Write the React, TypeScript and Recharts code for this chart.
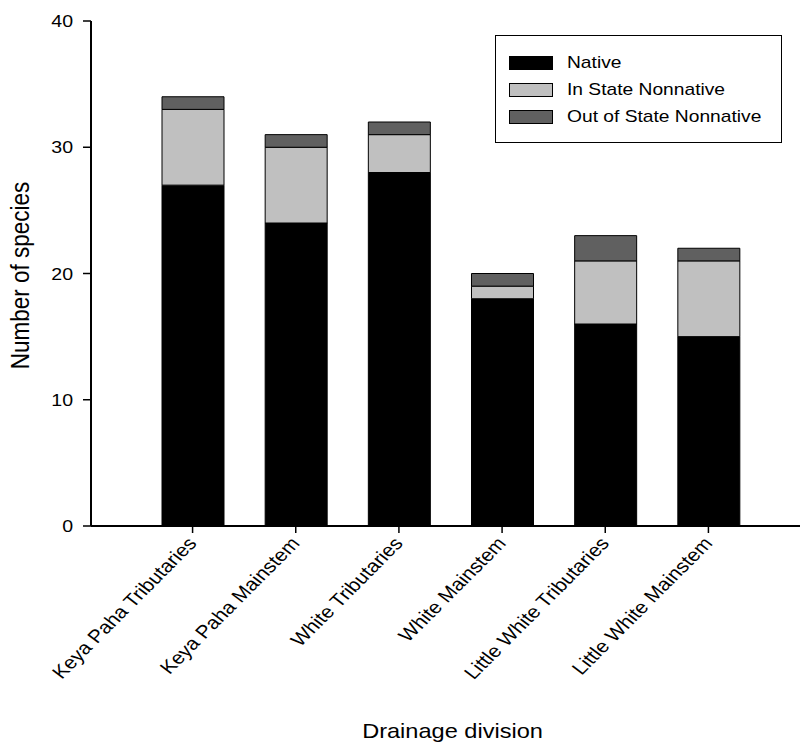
import { BarChart, Bar, XAxis, YAxis } from 'recharts';

const divisions = [
  'Keya Paha Tributaries',
  'Keya Paha Mainstem',
  'White Tributaries',
  'White Mainstem',
  'Little White Tributaries',
  'Little White Mainstem',
];
const native = [27, 24, 28, 18, 16, 15];
const inStateNonnative = [6, 6, 3, 1, 5, 6];
const outOfStateNonnative = [1, 1, 1, 1, 2, 1];
const yTicks = [0, 10, 20, 30, 40];

const series = [
  { key: 'native', name: 'Native', color: '#000000' },
  { key: 'inState', name: 'In State Nonnative', color: '#c0c0c0' },
  { key: 'outState', name: 'Out of State Nonnative', color: '#606060' },
];

const data = divisions.map((name, i) => ({
  name,
  native: native[i],
  inState: inStateNonnative[i],
  outState: outOfStateNonnative[i],
}));

const font = 'Arial, "Liberation Sans", sans-serif';
// the reference text is a bit wider than plain Arial
const stretch = 1.15;

function XTick({ x, y, payload }: any) {
  const tx = x + 5;
  const ty = y + 9;
  return (
    <text
      transform={`translate(${tx},${ty}) scale(${stretch},1) rotate(-49)`}
      textAnchor="end"
      fontSize={18.3}
      fill="#000"
      fontFamily={font}
    >
      {payload.value}
    </text>
  );
}

function YTick({ x, y, payload }: any) {
  return (
    <text
      transform={`translate(${x - 8},${y}) scale(${stretch},1)`}
      textAnchor="end"
      dy="0.36em"
      fontSize={17}
      fill="#000"
      fontFamily={font}
    >
      {payload.value}
    </text>
  );
}

function XLabel({ viewBox }: any) {
  const cx = viewBox ? viewBox.x + viewBox.width / 2 + 7 : 452;
  return (
    <text
      transform={`translate(${cx},738) scale(${stretch},1)`}
      textAnchor="middle"
      fontSize={20.5}
      fill="#000"
      fontFamily={font}
    >
      Drainage division
    </text>
  );
}

function YLabel({ viewBox }: any) {
  const cy = viewBox ? viewBox.y + viewBox.height / 2 : 273;
  return (
    <text
      transform={`translate(20,${cy + 2}) scale(${stretch},1) rotate(-90)`}
      textAnchor="middle"
      dy="0.36em"
      fontSize={22.5}
      fill="#000"
      fontFamily={font}
    >
      Number of species
    </text>
  );
}

function LegendBox() {
  return (
    <div
      style={{
        position: 'absolute',
        left: 495,
        top: 35,
        border: '1px solid #000',
        background: '#fff',
        width: 287,
        height: 108,
        boxSizing: 'border-box',
        padding: '13px 0 0 13px',
        fontFamily: font,
        fontSize: 17,
      }}
    >
      {series.map(s => (
        <div key={s.key} style={{ display: 'flex', alignItems: 'center', height: 27 }}>
          <div
            style={{
              width: 44,
              height: 14,
              background: s.color,
              border: '1px solid #000',
              boxSizing: 'border-box',
              marginRight: 14,
              flexShrink: 0,
            }}
          />
          <span
            style={{
              display: 'inline-block',
              whiteSpace: 'nowrap',
              transform: `scaleX(${stretch - 0.02})`,
              transformOrigin: 'left center',
            }}
          >
            {s.name}
          </span>
        </div>
      ))}
    </div>
  );
}

export default function App() {
  return (
    <div style={{ position: 'relative', width: 802, height: 745, background: '#fff' }}>
      <style>{`body { margin: 0; }`}</style>
      <BarChart
        width={802}
        height={745}
        data={data}
        margin={{ top: 21, right: 2, left: 0, bottom: 0 }}
        barSize={62}
        style={{ fontFamily: font }}
      >
        <XAxis
          dataKey="name"
          height={219}
          interval={0}
          padding={{ left: 50, right: 40 }}
          tick={<XTick />}
          tickLine={{ stroke: '#000', strokeWidth: 1.5 }}
          axisLine={{ stroke: '#000', strokeWidth: 2 }}
          tickSize={7}
          label={<XLabel />}
        />
        <YAxis
          width={91}
          domain={[0, 40]}
          ticks={yTicks}
          tick={<YTick />}
          tickLine={{ stroke: '#000', strokeWidth: 1.5 }}
          axisLine={{ stroke: '#000', strokeWidth: 2 }}
          tickSize={8}
          label={<YLabel />}
        />
        {series.map(s => (
          <Bar
            key={s.key}
            dataKey={s.key}
            name={s.name}
            stackId="a"
            fill={s.color}
            stroke="#000"
            strokeWidth={1}
            isAnimationActive={false}
          />
        ))}
      </BarChart>
      <LegendBox />
    </div>
  );
}
